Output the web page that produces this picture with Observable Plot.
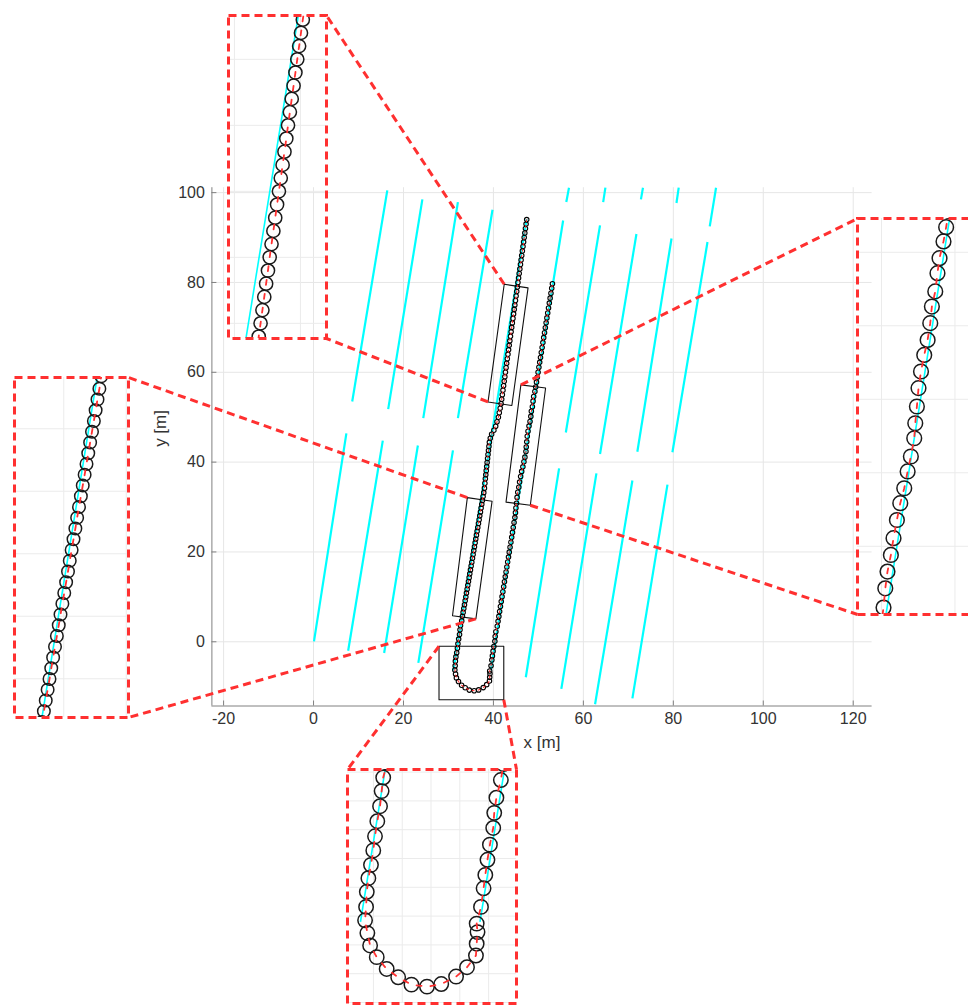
<!DOCTYPE html>
<html><head><meta charset="utf-8">
<script src="https://cdn.jsdelivr.net/npm/d3@7"></script>
<script src="https://cdn.jsdelivr.net/npm/@observablehq/plot@0.6"></script>
<style>
body{margin:0;background:#fff;}
#wrap{position:relative;width:968px;height:1006px;overflow:hidden;font-family:"Liberation Sans",Arial,sans-serif;}
#wrap svg{position:absolute;max-width:none;}
</style></head><body><div id="wrap"></div>
<script>
// ---------- DATA ----------
const xTicks = [-20, 0, 20, 40, 60, 80, 100, 120];
const yTicks = [0, 20, 40, 60, 80, 100];

// lane / reference lines (cyan), one segment per entry
const laneX1 = [0.1, 7.7, 15.7, 23.3, 8.6, 16.6, 24.4, 32.1, 31.1, 39.4, 47.2, 55.1, 62.6, 70.9, 56.1, 63.7, 72.0, 79.8, 56.2, 64.4, 72.8, 80.7, 88.1];
const laneY1 = [0.1, -2.0, -2.5, -4.7, 53.5, 51.8, 49.8, 49.8, -6.4, -6.4, -7.9, -10.5, -13.9, -12.6, 46.6, 41.8, 42.3, 42.2, 97.9, 97.9, 98.5, 97.7, 92.5];
const laneX2 = [7.3, 15.4, 23.2, 31.0, 16.4, 24.2, 32.1, 39.8, 47.4, 55.5, 54.6, 62.9, 70.9, 78.7, 63.7, 71.8, 79.6, 87.6, 56.8, 64.9, 73.25, 81.2, 89.5];
const laneY2 = [46.4, 44.8, 43.7, 42.6, 100.5, 98.5, 97.9, 96.2, 94.1, 93.8, 38.6, 37.5, 35.9, 35.0, 92.7, 90.8, 89.8, 89.0, 101.1, 101.1, 101.1, 101.1, 101.1];

// vehicle trajectory (black circles + red dashed path)
const trajX = [
 47.40,47.26,47.12,46.98,46.84,46.71,46.57,46.43,46.29,46.15,46.01,45.87,45.73,45.59,45.45,45.32,45.18,45.04,44.90,44.76,44.62,44.48,44.34,44.20,44.06,43.93,43.79,43.65,43.51,43.37,43.23,43.09,42.95,42.81,42.67,42.54,42.40,42.26,42.12,41.98,41.84,41.70,
 41.5,41.3,41.1,40.8,40.5,40.1,39.6,39.3,39.1,39.0,38.9,38.8,38.7,38.6,38.5,38.4,38.3,38.2,38.1,38.0,
 37.85,37.70,37.55,37.41,37.26,37.11,36.96,36.82,36.67,36.52,36.37,36.22,36.07,35.93,35.78,35.63,35.48,35.34,35.19,35.04,34.89,34.74,34.60,34.45,34.30,34.15,34.00,33.86,33.71,33.56,33.41,33.26,33.11,
 32.95,
 32.68,32.57,32.46,32.27,32.11,31.99,31.83,31.65,31.54,31.49,31.42,31.58,31.77,32.23,32.92,33.72,34.64,35.72,36.71,37.74,38.50,39.12,39.17,39.23,39.17,39.47,39.65,39.77,39.92,40.09,40.32,40.39,40.54,40.85,
 41.03,41.21,41.38,41.56,41.74,41.92,42.10,42.28,42.45,42.63,42.81,42.99,43.17,43.35,43.52,43.70,43.88,44.06,44.24,44.41,44.59,44.77,44.90,45.00,
 45.14,45.26,45.41,45.64,45.82,46.05,46.28,46.55,46.78,47.00,47.23,47.30,47.41,47.52,47.69,47.91,48.14,48.32,48.43,48.66,48.81,48.95,49.22,49.40,
 49.58,49.76,49.93,50.11,50.29,50.47,50.65,50.83,51.00,51.18,51.36,51.54,51.72,51.89,52.07,52.25,52.43,52.61,52.79,52.96,53.12
];
const trajY = [
 94,93,92,91,90,89,88,87,86,85,84,83,82,81,80,79,78,77,76,75,74,73,72,71,70,69,68,67,66,65,64,63,62,61,60,59,58,57,56,55,54,53,
 52,51,50,49,48,47.1,46.2,45.3,44.4,43.5,42.6,41.7,40.8,39.9,39.0,38.1,37.2,36.3,35.3,34.2,
 33.20,32.34,31.48,30.62,29.76,28.90,28.04,27.18,26.32,25.46,24.60,23.74,22.88,22.02,21.16,20.30,19.44,18.58,17.72,16.86,16.00,15.14,14.28,13.42,12.56,11.70,10.84,9.98,9.12,8.26,7.40,6.54,5.68,
 4.65,
 3.62,2.68,1.63,0.59,-0.46,-1.44,-2.44,-3.37,-4.31,-5.36,-6.29,-7.18,-8.04,-8.85,-9.67,-10.25,-10.76,-10.90,-10.72,-10.20,-9.55,-8.74,-7.92,-7.11,-6.52,-5.36,-4.07,-3.14,-2.09,-1.04,0.12,1.17,2.22,3.45,
 4.55,5.65,6.75,7.85,8.95,10.05,11.15,12.25,13.35,14.45,15.55,16.65,17.75,18.85,19.95,21.05,22.15,23.25,24.35,25.45,26.55,27.65,28.75,29.80,
 30.83,32.14,33.28,34.41,35.55,36.79,37.93,38.95,40.09,41.11,42.35,43.37,44.51,45.76,46.89,48.02,49.04,50.18,51.31,52.34,53.58,54.60,55.74,56.71,
 57.81,58.91,60.01,61.11,62.21,63.31,64.41,65.51,66.61,67.71,68.81,69.91,71.01,72.11,73.21,74.31,75.41,76.51,77.61,78.71,79.70
];

// zoom windows (black boxes) in the main axes
const boxId = ["A","A","A","A","B","B","B","B","C","C","C","C","D","D","D","D"];
const boxX = [42.4,47.7,44.1,38.8, 46.1,51.6,48.2,42.8, 34.2,39.7,36.1,30.9, 27.9,42.3,42.3,27.9];
const boxY = [79.6,78.8,52.6,53.4, 57.2,56.5,30.4,31.1, 32.1,31.3,5.1,5.8, -1.0,-1.0,-12.9,-12.9];

// box corners from which the red connectors leave (two per inset, inset order below)
const linkX = [38.8, 42.4, 46.1, 48.2, 34.2, 36.1, 27.9, 42.3];
const linkY = [53.4, 79.6, 57.2, 30.4, 32.1, 5.1, -1.0, -12.9];

// ---------- LAYOUT ----------
const W = 968, H = 1006;
const M = {left: 211.4, right: 96.4, top: 187.2, bottom: 300.5};
const xDomain = [-22.6, 124.2], yDomain = [-14.3, 101.1];
const INSETS = [
  {left: 228, top: 15,  w: 98,  h: 323, x0: 39.55, y0: 53.85, k: 13.2, step: 5, ends: [[326, 338], [326, 15]]},
  {left: 857, top: 218, w: 118, h: 396, x0: 43.37, y0: 30.36, k: 14.7, step: 5, ends: [[857, 218], [857, 614]]},
  {left: 14,  top: 377, w: 114, h: 340, x0: 31.06, y0: 6.9,   k: 12.5, step: 5, ends: [[128, 377], [128, 717]]},
  {left: 347, top: 769, w: 169, h: 234, x0: 30.2,  y0: -12.07, k: 14.4, step: 2, ends: [[347, 769], [516, 769]]}
];
const CYAN = "#00ffff", RED = "#ff3030";

// ---------- TABLES ----------
const lanes = laneX1.map((_, i) => ({x1: laneX1[i], y1: laneY1[i], x2: laneX2[i], y2: laneY2[i]}));
const traj = trajX.map((x, i) => ({x, y: trajY[i]}));
const boxPts = [];
for (const id of [...new Set(boxId)]) {
  const idx = boxId.map((b, i) => b === id ? i : -1).filter(i => i >= 0);
  for (const i of [...idx, idx[0]]) boxPts.push({id, x: boxX[i], y: boxY[i]});
}
const xs = d3.scaleLinear(xDomain, [M.left, W - M.right]);
const ys = d3.scaleLinear(yDomain, [H - M.bottom, M.top]);
const ends = INSETS.flatMap(d => d.ends);
const links = linkX.map((x, i) => ({x1: x, y1: linkY[i], x2: xs.invert(ends[i][0]), y2: ys.invert(ends[i][1])}));

const plotW = W - M.left - M.right, plotH = H - M.top - M.bottom;
const kMain = plotW / (xDomain[1] - xDomain[0]);

const wrap = document.getElementById("wrap");

// ---------- MAIN AXES ----------
const main = Plot.plot({
  width: W, height: H,
  marginLeft: M.left, marginRight: M.right, marginTop: M.top, marginBottom: M.bottom,
  x: {domain: xDomain, ticks: xTicks, tickSize: 0, tickPadding: 7, tickFormat: d => String(d), label: null},
  y: {domain: yDomain, ticks: yTicks, tickSize: 0, tickPadding: 7, tickFormat: d => String(d), label: null},
  style: {background: "transparent", color: "#333", fontSize: "16px", fontFamily: "Liberation Sans, Arial, sans-serif", overflow: "visible"},
  marks: [
    Plot.ruleX(xTicks, {stroke: "#e6e6e6"}),
    Plot.ruleY(yTicks, {stroke: "#e6e6e6"}),
    Plot.ruleY([yDomain[0]], {stroke: "#808080"}),
    Plot.ruleX([xDomain[0]], {stroke: "#808080"}),
    Plot.tickX(xTicks, {x: d => d, insetTop: plotH - 5, stroke: "#808080"}),
    Plot.tickY(yTicks, {y: d => d, insetRight: plotW - 5, stroke: "#808080"}),
    Plot.link(lanes, {x1: "x1", y1: "y1", x2: "x2", y2: "y2", stroke: CYAN, strokeWidth: 2.2}),
    Plot.line(boxPts, {x: "x", y: "y", z: "id", stroke: "#111", strokeWidth: 1.1}),
    Plot.dot(traj, {x: "x", y: "y", r: 0.5 * kMain, stroke: "#000", strokeWidth: 1.1, fill: "none"}),
    Plot.line(traj, {x: "x", y: "y", stroke: RED, strokeWidth: 1.1, strokeDasharray: "2,4"}),
    Plot.link(links, {x1: "x1", y1: "y1", x2: "x2", y2: "y2", stroke: RED, strokeWidth: 3, strokeDasharray: "8,5"}),
    Plot.text(["x [m]"], {frameAnchor: "bottom", dy: 42, fontSize: 17, fill: "#333"}),
    Plot.text(["y [m]"], {frameAnchor: "left", dx: -51, rotate: -90, fontSize: 17, fill: "#333"})
  ]
});
main.style.left = "0px"; main.style.top = "0px";
wrap.appendChild(main);

// ---------- INSETS ----------
const pad = 2;
for (const b of INSETS) {
  const xd = [b.x0, b.x0 + b.w / b.k], yd = [b.y0, b.y0 + b.h / b.k];
  const gx = d3.range(Math.ceil(xd[0] / b.step) * b.step, xd[1], b.step);
  const gy = d3.range(Math.ceil(yd[0] / b.step) * b.step, yd[1], b.step);
  const p = Plot.plot({
    width: b.w + 2 * pad, height: b.h + 2 * pad, margin: pad,
    x: {domain: xd, axis: null},
    y: {domain: yd, axis: null},
    style: {background: "transparent", overflow: "visible"},
    marks: [
      Plot.ruleX(gx, {stroke: "#ebebeb"}),
      Plot.ruleY(gy, {stroke: "#ebebeb"}),
      Plot.link(lanes, {x1: "x1", y1: "y1", x2: "x2", y2: "y2", stroke: CYAN, strokeWidth: 1.6, clip: true}),
      Plot.dot(traj, {x: "x", y: "y", r: 0.5 * b.k, stroke: "#1a1a1a", strokeWidth: 1.5, fill: "none", clip: true}),
      Plot.line(traj, {x: "x", y: "y", stroke: RED, strokeWidth: 1.8, strokeDasharray: "5,9", clip: true}),
      Plot.frame({stroke: RED, strokeWidth: 3, strokeDasharray: "8,5"})
    ]
  });
  p.style.left = (b.left - pad) + "px";
  p.style.top = (b.top - pad) + "px";
  wrap.appendChild(p);
}
</script></body></html>
